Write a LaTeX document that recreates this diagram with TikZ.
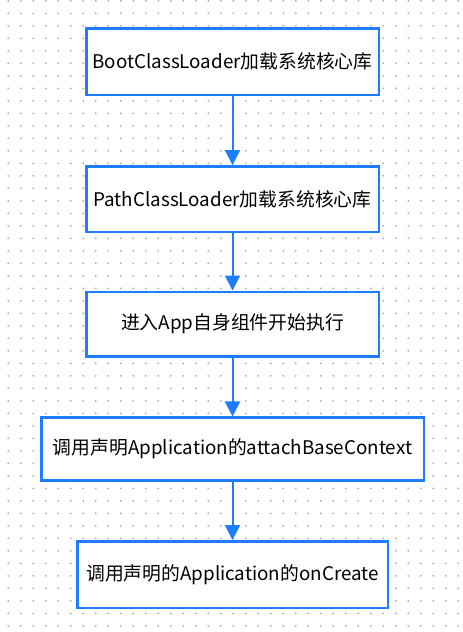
\documentclass[tikz,border=0pt]{standalone}
\usepackage{fontspec}
\setmainfont{Noto Sans CJK SC}
\usetikzlibrary{arrows.meta}
\definecolor{boxblue}{RGB}{30,125,255}
\definecolor{dotgray}{RGB}{170,170,170}
\begin{document}
\begin{tikzpicture}[x=1pt,y=-1pt,
  box/.style={draw=boxblue, line width=2.5pt, fill=white, inner sep=0pt,
    font=\fontsize{18.8}{22}\selectfont},
  link/.style={draw=boxblue, line width=2pt, -{Triangle[width=15pt,length=15pt]}},
  griddot/.style={fill=dotgray, draw=none}]
\fill[white] (0,0) rectangle (463,632);
\useasboundingbox (0,0) rectangle (463,632);
\foreach \i in {0,...,36}{
  \foreach \j in {0,...,50}{
    \fill[griddot] (8.3+12.5*\i, 0.8+12.5*\j) circle (1);
  }
}
\node[box, minimum width=292.5pt, minimum height=66.5pt] (b1) at (232.5,61.5) {BootClassLoader加载系统核心库};
\node[box, minimum width=292.5pt, minimum height=65.5pt] (b2) at (232.5,199) {PathClassLoader加载系统核心库};
\node[box, minimum width=292.5pt, minimum height=64.5pt] (b3) at (232.5,324) {进入App自身组件开始执行};
\node[box, minimum width=382.5pt, minimum height=63pt] (b4) at (232.5,449.2) {调用声明Application的attachBaseContext};
\node[box, minimum width=310.5pt, minimum height=66.5pt] (b5) at (232.5,574.5) {调用声明的Application的onCreate};
\draw[link] (b1) -- (b2);
\draw[link] (b2) -- (b3);
\draw[link] (b3) -- (b4);
\draw[link] (b4) -- (b5);
\end{tikzpicture}
\end{document}
